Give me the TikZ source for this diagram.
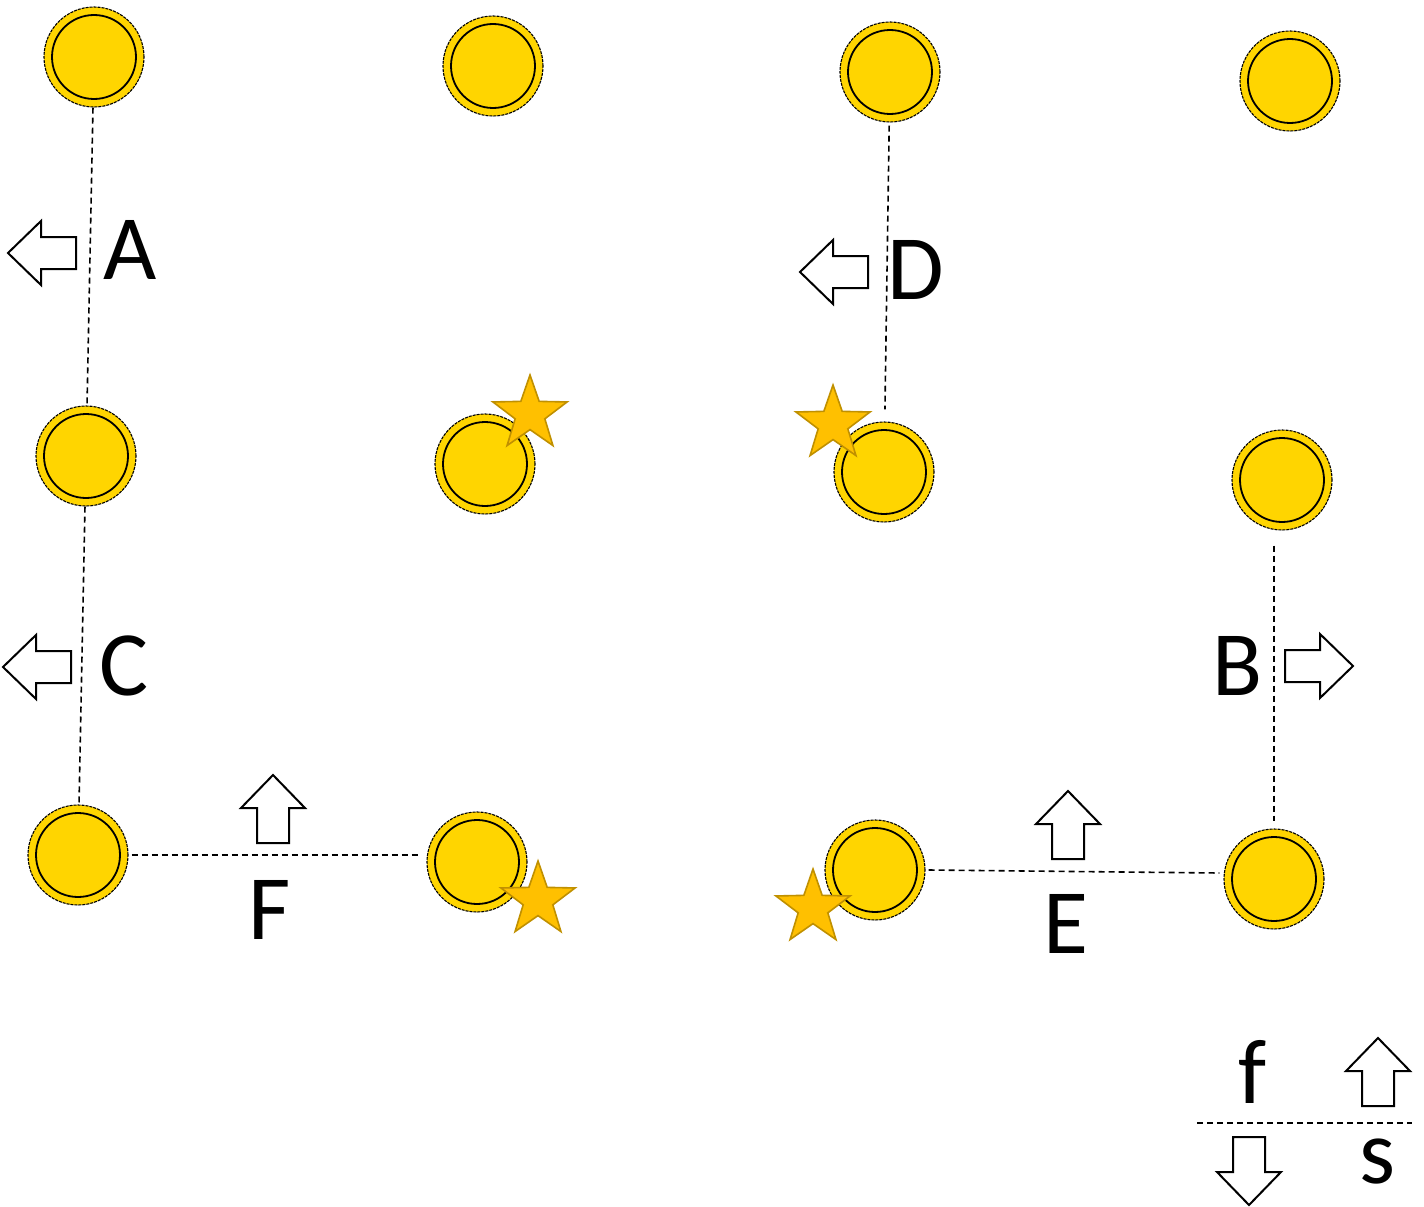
\documentclass[tikz,border=0pt]{standalone}
\usepackage{fontspec}
\setmainfont{Carlito}
\usetikzlibrary{shapes.geometric}
\definecolor{coin}{HTML}{FFD500}
\definecolor{starfill}{HTML}{FFC000}
\definecolor{stardraw}{HTML}{C09000}
\tikzset{
  coinnode/.style={circle, minimum size=100pt, inner sep=0pt, fill=coin,
    draw=black, line width=1.1pt, dash pattern=on 3pt off 1pt,
    path picture={\draw[solid, line width=1.8pt, black] (path picture bounding box.center) circle (42pt);}},
  starnode/.style={star, star points=5, star point ratio=2.5, minimum size=78pt, inner sep=0pt,
    fill=starfill, draw=stardraw, line width=1.6pt},
  link/.style={draw=black, line width=1.6pt, dash pattern=on 6pt off 4pt},
  lab/.style={font=\fontsize{92}{100}\selectfont, inner sep=0pt, anchor=center},
  blockarrow/.pic={\draw[line width=2pt, fill=white, line join=miter]
    (0,0) -- (-33,32) -- (-33,16) -- (-68,16) -- (-68,-16) -- (-33,-16) -- (-33,-32) -- cycle;}
}
\begin{document}
\begin{tikzpicture}[x=1pt, y=-1pt]
\useasboundingbox (0,0) rectangle (1424,1207);
% coins
\node[coinnode] (p1) at (94,57) {};
\node[coinnode] (p2) at (493,66) {};
\node[coinnode] (p3) at (890,72) {};
\node[coinnode] (p4) at (1290,81) {};
\node[coinnode] (p5) at (86,456) {};
\node[coinnode] (p6) at (485,464) {};
\node[coinnode] (p7) at (884,472) {};
\node[coinnode] (p8) at (1282,480) {};
\node[coinnode] (p9) at (78,855) {};
\node[coinnode] (p10) at (477,862) {};
\node[coinnode] (p11) at (875,870) {};
\node[coinnode] (p12) at (1274,879) {};
% stars
\node[starnode] (s1) at (530,414) {};
\node[starnode] (s2) at (833,424) {};
\node[starnode] (s3) at (538,900) {};
\node[starnode] (s4) at (813,908) {};
% dashed links
\draw[link] (p1) -- (p5);
\draw[link, shorten <=3pt, shorten >=12pt] (p3) -- (p7);
\draw[link] (p5) -- (p9);
\coordinate (b1) at ([yshift=-15pt]p8.south);
\coordinate (b2) at ([yshift=7pt]p12.north);
\draw[link] (b1 -| p12) -- (b2);
\coordinate (f1) at ([xshift=3pt]p9.east);
\coordinate (f2) at ([xshift=-7pt]p10.west);
\draw[link] (f1) -- (f2 |- f1);
\coordinate (e1) at ([xshift=3pt]p11.east);
\coordinate (e2) at ([xshift=-4pt,yshift=6pt]p12.west);
\draw[link] (e1) -- (e2);
% labels
\node[lab] (lA) at (130,250) {A};
\node[lab] (lD) at (916,270) {D};
\node[lab] (lC) at (124,666) {C};
\node[lab] (lB) at (1238,666) {B};
\node[lab] (lF) at (270,910) {F};
\node[lab] (lE) at (1066,924) {E};
\node[lab] (lf) at (1253,1072) {f};
\node[lab] (ls) at (1377,1162) {s};
% block arrows
\pic[rotate=180] at (8,253) {blockarrow};
\pic[rotate=180] at (3,667) {blockarrow};
\pic[rotate=180] at (800,272) {blockarrow};
\pic at (1353,666) {blockarrow};
\pic[rotate=90] at (273,775) {blockarrow};
\pic[rotate=90] at (1068,791) {blockarrow};
\pic[rotate=90] at (1378,1038) {blockarrow};
\pic[rotate=-90] at (1249,1205) {blockarrow};
% legend line
\coordinate (l1) at (1197,1123);
\coordinate (l2) at (1412,1123);
\draw[link] (l1) -- (l2);
\end{tikzpicture}
\end{document}
